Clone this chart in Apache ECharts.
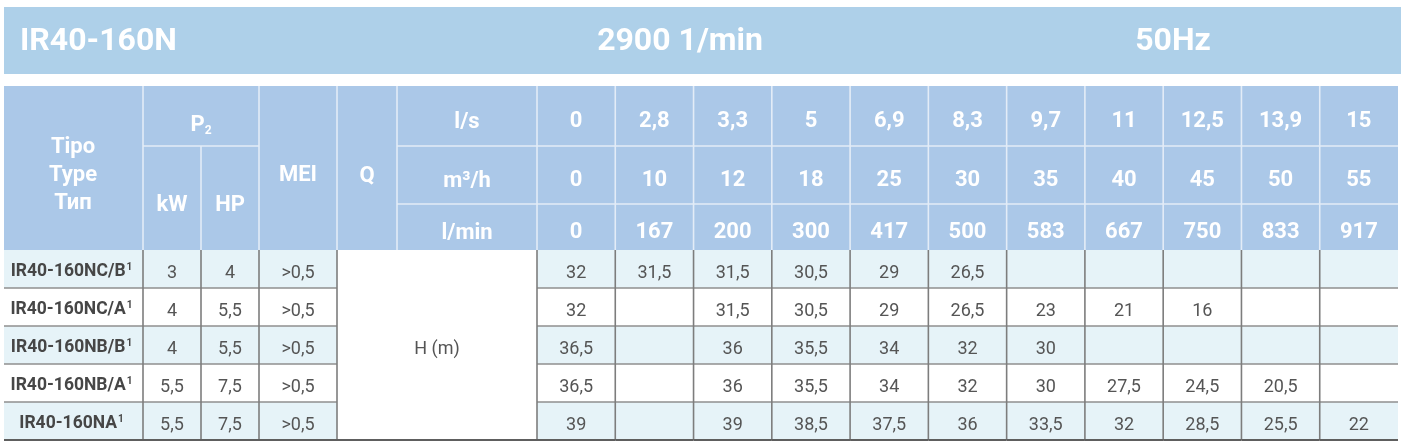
<!DOCTYPE html>
<html>
<head>
<meta charset="utf-8">
<script src="https://cdn.jsdelivr.net/npm/echarts@6/dist/echarts.min.js"></script>
<style>
html,body{margin:0;padding:0;background:#ffffff;}
#chart{width:1408px;height:446px;}
</style>
</head>
<body>
<div id="chart"></div>
<script>
// ---------- DATA ----------
const titleModel = 'IR40-160N';
const titleSpeed = '2900 1/min';
const titleFreq = '50Hz';

const unitLabels = ['l/s', 'm³/h', 'l/min'];
const flowLs   = ['0', '2,8', '3,3', '5', '6,9', '8,3', '9,7', '11', '12,5', '13,9', '15'];
const flowM3h  = ['0', '10', '12', '18', '25', '30', '35', '40', '45', '50', '55'];
const flowLmin = ['0', '167', '200', '300', '417', '500', '583', '667', '750', '833', '917'];

const models   = ['IR40-160NC/B', 'IR40-160NC/A', 'IR40-160NB/B', 'IR40-160NB/A', 'IR40-160NA'];
const modelNote = '1';
const powerKW  = ['3', '4', '4', '5,5', '5,5'];
const powerHP  = ['4', '5,5', '5,5', '7,5', '7,5'];
const meiValues = ['>0,5', '>0,5', '>0,5', '>0,5', '>0,5'];

const headNCB = [32, 31.5, 31.5, 30.5, 29, 26.5, null, null, null, null, null];
const headNCA = [32, null, 31.5, 30.5, 29, 26.5, 23, 21, 16, null, null];
const headNBB = [36.5, null, 36, 35.5, 34, 32, 30, null, null, null, null];
const headNBA = [36.5, null, 36, 35.5, 34, 32, 30, 27.5, 24.5, 20.5, null];
const headNA  = [39, null, 39, 38.5, 37.5, 36, 33.5, 32, 28.5, 25.5, 22];
const headRows = [headNCB, headNCA, headNBB, headNBA, headNA];

// ---------- STYLE / LAYOUT ----------
const FONT = 'Roboto';
const TITLE_BG = '#aed0e9';
const HEAD_BG = '#abc8e8';
const HEAD_LINE = '#e3ecf7';
const ROW_A = '#e6f3f8';
const ROW_B = '#ffffff';
const V_LINE = '#7d7d7d';
const H_LINE = '#8f8f8f';
const BOTTOM_LINE = '#5e5e5e';
const TXT = '#555555';
const TXT_BOLD = '#464646';

const tableLeft = 4, tableRight = 1398;
const headEdges = [86, 146, 204, 250];
const dataTop = 250, dataBottom = 440;
const leftCols = [4, 143, 201, 259, 337];
const hLeft = 337, dataLeft = 537;

const fmt = v => (v === null || v === undefined) ? '' : String(v).replace('.', ',');
const flowRows = [flowLs, flowM3h, flowLmin];

// ---------- GRIDS / AXES ----------
const grids = [], xAxes = [], yAxes = [];
function addGrid(left, top, width, height, xData, yData) {
  grids.push({left: left, top: top, width: width, height: height, containLabel: false});
  const i = grids.length - 1;
  xAxes.push({type: 'category', gridIndex: i, data: xData, show: false});
  yAxes.push({type: 'category', gridIndex: i, data: yData, inverse: true, show: false});
  return i;
}
const gData = addGrid(dataLeft, dataTop, tableRight - dataLeft, dataBottom - dataTop, flowLs, models);
const gHead = [];
for (let r = 0; r < 3; r++) {
  gHead.push(addGrid(dataLeft, headEdges[r], tableRight - dataLeft, headEdges[r + 1] - headEdges[r], flowRows[r], [unitLabels[r]]));
}
const leftColumnTexts = [
  models.map(m => '{m|' + m + '}{s|' + modelNote + '}'),
  powerKW,
  powerHP,
  meiValues
];
const gLeft = [];
for (let c = 0; c < 4; c++) {
  gLeft.push(addGrid(leftCols[c], dataTop, leftCols[c + 1] - leftCols[c], dataBottom - dataTop, ['col' + c], models));
}

function cellBox(api) {
  const c = api.coord([api.value(0), api.value(1)]);
  const s = api.size([1, 1]);
  return {cx: c[0], cy: c[1], x: c[0] - s[0] / 2, y: c[1] - s[1] / 2, w: s[0], h: s[1]};
}

function bodyLines(b, yi, leftLine, rightLine) {
  const arr = [];
  if (leftLine) arr.push({type: 'line', z2: 10, shape: {x1: b.x, y1: b.y, x2: b.x, y2: b.y + b.h}, style: {stroke: V_LINE, lineWidth: 1.6}});
  if (rightLine) arr.push({type: 'line', z2: 10, shape: {x1: b.x + b.w, y1: b.y, x2: b.x + b.w, y2: b.y + b.h}, style: {stroke: V_LINE, lineWidth: 1.6}});
  const last = yi === models.length - 1;
  arr.push({type: 'line', z2: last ? 12 : 9, shape: {x1: b.x, y1: b.y + b.h, x2: b.x + b.w, y2: b.y + b.h},
    style: {stroke: last ? BOTTOM_LINE : H_LINE, lineWidth: last ? 2 : 1.4}});
  return arr;
}

const series = [];

// data cells (head values)
const dataCells = [];
headRows.forEach((row, i) => row.forEach((v, j) => dataCells.push([j, i])));
series.push({
  type: 'custom', xAxisIndex: gData, yAxisIndex: gData, data: dataCells, silent: true,
  renderItem: function (params, api) {
    const b = cellBox(api);
    const xi = api.value(0), yi = api.value(1);
    const children = [
      {type: 'rect', shape: {x: b.x, y: b.y, width: b.w, height: b.h}, style: {fill: yi % 2 === 0 ? ROW_A : ROW_B}}
    ].concat(bodyLines(b, yi, true, false));
    children.push({type: 'text', z2: 11, style: {text: fmt(headRows[yi][xi]), x: b.cx, y: b.cy + 4, align: 'center', verticalAlign: 'middle',
      fontFamily: FONT, fontSize: 18, fill: TXT}});
    return {type: 'group', children: children};
  }
});

// header flow cells
for (let r = 0; r < 3; r++) {
  const cells = flowRows[r].map((v, j) => [j, 0]);
  series.push({
    type: 'custom', xAxisIndex: gHead[r], yAxisIndex: gHead[r], data: cells, silent: true,
    renderItem: (function (rr) {
      return function (params, api) {
        const b = cellBox(api);
        const xi = api.value(0);
        const children = [
          {type: 'rect', shape: {x: b.x, y: b.y, width: b.w, height: b.h}, style: {fill: HEAD_BG}},
          {type: 'line', z2: 10, shape: {x1: b.x, y1: b.y, x2: b.x, y2: b.y + b.h}, style: {stroke: HEAD_LINE, lineWidth: 1.6}}
        ];
        if (rr > 0) children.push({type: 'line', z2: 10, shape: {x1: b.x, y1: b.y, x2: b.x + b.w, y2: b.y}, style: {stroke: HEAD_LINE, lineWidth: 1.6}});
        children.push({type: 'text', z2: 11, style: {text: flowRows[rr][xi], x: b.cx, y: b.cy + 5, align: 'center', verticalAlign: 'middle',
          fontFamily: FONT, fontWeight: 'bold', fontSize: 22, fill: '#ffffff'}});
        return {type: 'group', children: children};
      };
    })(r)
  });
}

// left columns (type, kW, HP, MEI)
for (let c = 0; c < 4; c++) {
  const cells = models.map((m, i) => [0, i]);
  series.push({
    type: 'custom', xAxisIndex: gLeft[c], yAxisIndex: gLeft[c], data: cells, silent: true,
    renderItem: (function (cc) {
      return function (params, api) {
        const b = cellBox(api);
        const yi = api.value(1);
        const children = [
          {type: 'rect', shape: {x: b.x, y: b.y, width: b.w, height: b.h}, style: {fill: yi % 2 === 0 ? ROW_A : ROW_B}}
        ].concat(bodyLines(b, yi, cc > 0, cc === 3));
        if (cc === 0) {
          children.push({type: 'text', z2: 11, style: {text: leftColumnTexts[cc][yi], x: b.cx - 2, y: b.cy + 3, align: 'center', verticalAlign: 'middle',
            rich: {m: {fontFamily: FONT, fontWeight: 'bold', fontSize: 17.5, fill: TXT_BOLD},
                   s: {fontFamily: FONT, fontWeight: 'bold', fontSize: 10, fill: TXT_BOLD, padding: [0, 0, 9, 1]}}}});
        } else {
          children.push({type: 'text', z2: 11, style: {text: leftColumnTexts[cc][yi], x: b.cx, y: b.cy + 4, align: 'center', verticalAlign: 'middle',
            fontFamily: FONT, fontSize: 18, fill: TXT}});
        }
        return {type: 'group', children: children};
      };
    })(c)
  });
}

// ---------- STATIC HEADER / TITLE GRAPHICS ----------
const headTxt = (text, x, y, size) => ({type: 'text', z: 5, style: {text: text, x: x, y: y, align: 'center', verticalAlign: 'middle',
  fontFamily: FONT, fontWeight: 'bold', fontSize: size || 22, fill: '#ffffff'}});
const hline = (x1, y1, x2, y2) => ({type: 'line', z: 4, shape: {x1: x1, y1: y1, x2: x2, y2: y2}, style: {stroke: HEAD_LINE, lineWidth: 1.6}});

const graphics = [
  {type: 'rect', z: 1, shape: {x: 4, y: 7, width: 1397, height: 67}, style: {fill: TITLE_BG}},
  {type: 'text', z: 5, style: {text: titleModel, x: 20, y: 42, align: 'left', verticalAlign: 'middle', fontFamily: FONT, fontWeight: 'bold', fontSize: 32, fill: '#ffffff'}},
  {type: 'text', z: 5, style: {text: titleSpeed, x: 680, y: 42, align: 'center', verticalAlign: 'middle', fontFamily: FONT, fontWeight: 'bold', fontSize: 32, fill: '#ffffff'}},
  {type: 'text', z: 5, style: {text: titleFreq, x: 1173, y: 42, align: 'center', verticalAlign: 'middle', fontFamily: FONT, fontWeight: 'bold', fontSize: 32, fill: '#ffffff'}},

  {type: 'rect', z: 1, shape: {x: tableLeft, y: headEdges[0], width: dataLeft - tableLeft, height: headEdges[3] - headEdges[0]}, style: {fill: HEAD_BG}},
  hline(leftCols[1], headEdges[0], leftCols[1], headEdges[3]),
  hline(leftCols[2], headEdges[1], leftCols[2], headEdges[3]),
  hline(leftCols[1], headEdges[1], leftCols[3], headEdges[1]),
  hline(leftCols[3], headEdges[0], leftCols[3], headEdges[3]),
  hline(hLeft, headEdges[0], hLeft, headEdges[3]),
  hline(397, headEdges[0], 397, headEdges[3]),
  hline(397, headEdges[1], dataLeft, headEdges[1]),
  hline(397, headEdges[2], dataLeft, headEdges[2]),

  {type: 'text', z: 5, style: {text: 'Tipo\nType\nТип', x: 73, y: 175, align: 'center', verticalAlign: 'middle', lineHeight: 28,
    fontFamily: FONT, fontWeight: 'bold', fontSize: 22, fill: '#ffffff'}},
  {type: 'text', z: 5, style: {text: '{p|P}{s|2}', x: 201, y: 125, align: 'center', verticalAlign: 'middle',
    rich: {p: {fontFamily: FONT, fontWeight: 'bold', fontSize: 22, fill: '#ffffff'},
           s: {fontFamily: FONT, fontWeight: 'bold', fontSize: 12, fill: '#ffffff', padding: [12, 0, 0, 0]}}}},
  headTxt('kW', 172, 205),
  headTxt('HP', 230, 205),
  headTxt('MEI', 298, 175),
  headTxt('Q', 367, 176),
  headTxt(unitLabels[0], 467, 122),
  headTxt(unitLabels[1], 467, 181),
  headTxt(unitLabels[2], 467, 233),

  {type: 'rect', z: 1, shape: {x: hLeft, y: dataTop, width: dataLeft - hLeft, height: dataBottom - dataTop}, style: {fill: '#ffffff'}},
  {type: 'line', z: 6, shape: {x1: hLeft, y1: dataBottom, x2: dataLeft, y2: dataBottom}, style: {stroke: BOTTOM_LINE, lineWidth: 2}},
  {type: 'text', z: 5, style: {text: 'H (m)', x: 437, y: 349, align: 'center', verticalAlign: 'middle', fontFamily: FONT, fontSize: 18, fill: TXT}}
];

const chart = echarts.init(document.getElementById('chart'), null, {renderer: 'canvas'});
chart.setOption({
  animation: false,
  backgroundColor: '#ffffff',
  grid: grids,
  xAxis: xAxes,
  yAxis: yAxes,
  series: series,
  graphic: {elements: graphics}
});
</script>
</body>
</html>
